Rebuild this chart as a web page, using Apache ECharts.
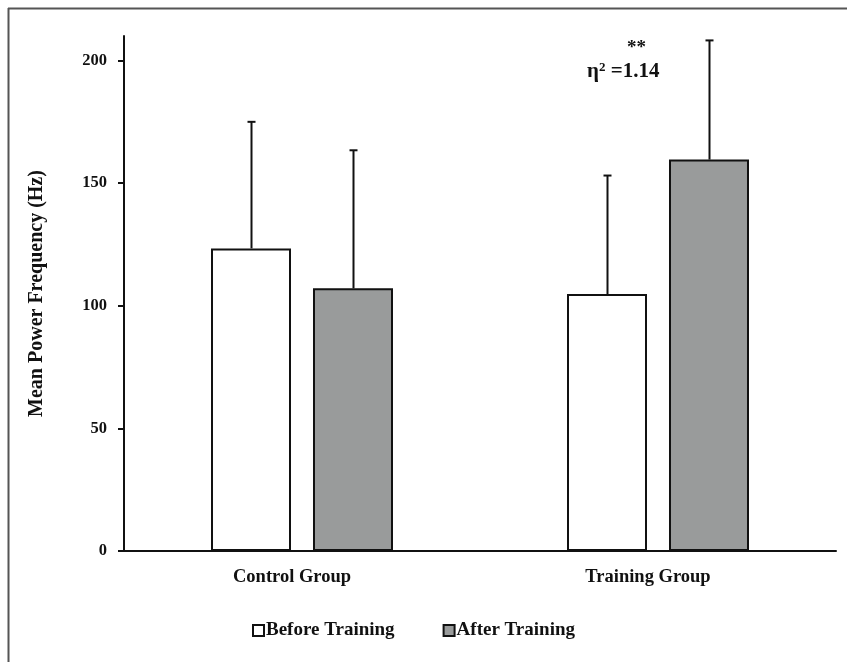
<!DOCTYPE html>
<html><head><meta charset="utf-8">
<script src="https://cdn.jsdelivr.net/npm/echarts@6/dist/echarts.min.js"></script>
<style>html,body{margin:0;padding:0;background:#fff}#c{width:847px;height:662px}</style>
</head><body><div id="c"></div>
<script>
const categories = ['Control Group', 'Training Group'];
const seriesNames = ['Before Training', 'After Training'];
const beforeMean = [123.4, 104.8];
const beforeSD = [51.6, 48.3];
const afterMean = [107.1, 159.6];
const afterSD = [56.3, 48.6];
const yTicks = [0, 50, 100, 150, 200];

const FONT = '"Liberation Serif", "Times New Roman", serif';
const chart = echarts.init(document.getElementById('c'), null, {renderer: 'canvas'});

function errSeries(means, sds, idx) {
  return {
    type: 'custom',
    silent: true,
    z: 5,
    data: means.map((m, i) => [i, m, m + sds[i]]),
    renderItem: function (params, api) {
      const x = api.value(0);
      const lo = api.coord([x, api.value(1)]);
      const hi = api.coord([x, api.value(2)]);
      const band = api.size([1, 0])[0];
      const barW = band * 0.2247;
      const gap = barW * 0.275;
      const off = (idx === 0 ? -1 : 1) * (gap / 2 + barW / 2);
      const cx = Math.round(lo[0] + off) + 0.5;
      return {
        type: 'group',
        children: [
          {type: 'line', shape: {x1: cx, y1: lo[1], x2: cx, y2: hi[1]}, style: {stroke: '#111', lineWidth: 2}},
          {type: 'line', shape: {x1: cx - 4, y1: hi[1], x2: cx + 4, y2: hi[1]}, style: {stroke: '#111', lineWidth: 2}}
        ]
      };
    }
  };
}

chart.setOption({
  animation: false,
  backgroundColor: '#fff',
  grid: {left: 124, right: 11, top: 36, bottom: 111, containLabel: false},
  legend: {
    data: seriesNames,
    left: 247, top: 616,
    itemWidth: 11, itemHeight: 11, itemGap: 48,
    icon: 'rect',
    textStyle: {fontFamily: FONT, fontWeight: 'bold', fontSize: 19, color: '#111', padding: [0, 0, 0, -3]}
  },
  xAxis: {
    type: 'category',
    data: categories,
    axisLine: {lineStyle: {color: '#111', width: 2}},
    axisTick: {show: false},
    axisLabel: {fontFamily: FONT, fontWeight: 'bold', fontSize: 18.5, color: '#111', margin: 17, padding: [0, 20, 0, 0]}
  },
  yAxis: {
    type: 'value', min: 0, max: 210, interval: 50,
    name: 'Mean Power Frequency (Hz)',
    nameLocation: 'middle', nameGap: 77,
    nameTextStyle: {fontFamily: FONT, fontWeight: 'bold', fontSize: 20, color: '#111'},
    axisLine: {show: true, lineStyle: {color: '#111', width: 2}},
    axisTick: {show: true, length: 6, lineStyle: {color: '#111', width: 2}, customValues: yTicks},
    axisLabel: {fontFamily: FONT, fontWeight: 'bold', fontSize: 16.5, color: '#111', margin: 17, customValues: yTicks},
    splitLine: {show: false}
  },
  series: [
    {name: seriesNames[0], type: 'bar', data: beforeMean, barWidth: '22.47%', barGap: '27.5%',
     itemStyle: {color: '#ffffff', borderColor: '#111', borderWidth: 2}},
    {name: seriesNames[1], type: 'bar', data: afterMean, barWidth: '22.47%', barGap: '27.5%',
     itemStyle: {color: '#999b9b', borderColor: '#111', borderWidth: 2}},
    errSeries(beforeMean, beforeSD, 0),
    errSeries(afterMean, afterSD, 1)
  ],
  graphic: [
    {type: 'line', shape: {x1: 8.5, y1: 8, x2: 8.5, y2: 662}, style: {stroke: '#555', lineWidth: 2}},
    {type: 'line', shape: {x1: 8, y1: 8.5, x2: 847, y2: 8.5}, style: {stroke: '#555', lineWidth: 2}},
    {type: 'text', left: 627, top: 39, style: {text: '**', font: 'bold 19px ' + FONT, fill: '#111'}},
    {type: 'text', left: 587, top: 61, style: {
      text: '{a|η}{s|2}{a| =1.14}',
      rich: {
        a: {font: 'bold 21px ' + FONT, fill: '#111'},
        s: {font: 'bold 13px ' + FONT, fill: '#111', verticalAlign: 'top', padding: [0, 0, 9, 0]}
      }
    }}
  ]
});
</script></body></html>
